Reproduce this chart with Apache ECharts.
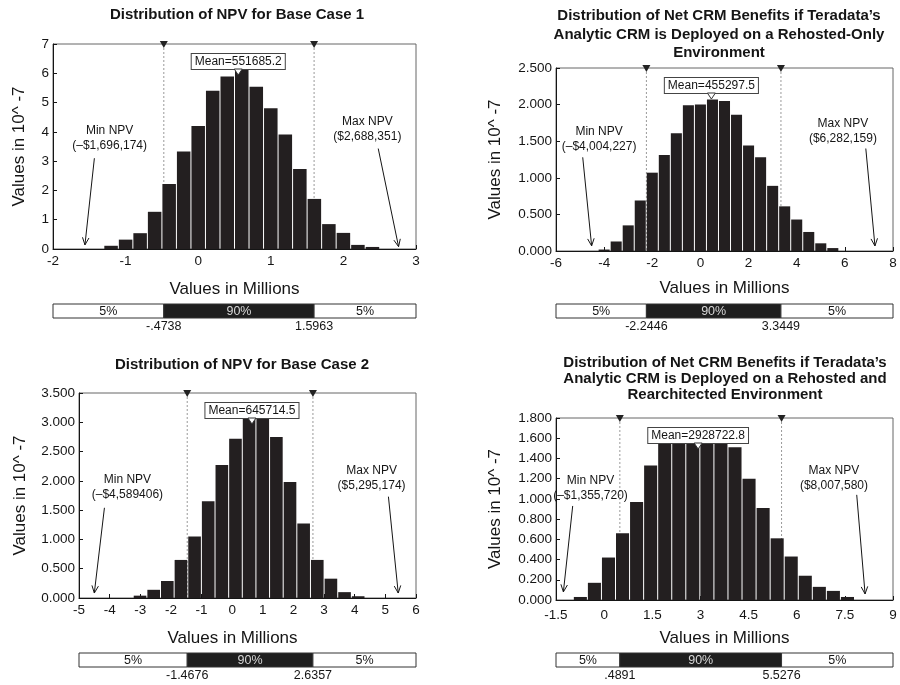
<!DOCTYPE html>
<html><head><meta charset="utf-8">
<script src="https://cdn.jsdelivr.net/npm/echarts@6/dist/echarts.min.js"></script>
<style>html,body{margin:0;padding:0;background:#fff}#c{width:900px;height:685px}</style>
</head><body><div id="c"></div>
<script>
// ---------- Panel 1 : Base Case 1 ----------
const p1Title = 'Distribution of NPV for Base Case 1';
const p1XRange = [-2, 3, 1];
const p1YRange = [0, 7, 1];
const p1BinStart = -1.3, p1BinWidth = 0.2;
const p1Heights = [0.11, 0.32, 0.54, 1.27, 2.22, 3.33, 4.20, 5.40, 5.89, 6.12, 5.54, 4.81, 3.91, 2.73, 1.71, 0.85, 0.55, 0.14, 0.07];
const p1Mean = 551685.2;
const p1Pct = [-0.4738, 1.5963];
const p1PctLabels = ['-.4738', '1.5963'];
const p1NoteTexts = ['Min NPV\n(\u2013$1,696,174)', 'Max NPV\n($2,688,351)'];
const p1Notes = [[-1.22, 3.80, -1.43, 3.10, -1.56, 0.14], [2.33, 4.08, 2.48, 3.43, 2.76, 0.08]];

// ---------- Panel 2 : Rehosted-Only ----------
const p2Title = 'Distribution of Net CRM Benefits if Teradata\u2019s\nAnalytic CRM is Deployed on a Rehosted-Only\nEnvironment';
const p2XRange = [-6, 8, 2];
const p2YRange = [0, 2.5, 0.5];
const p2BinStart = -4.25, p2BinWidth = 0.5;
const p2Heights = [0.02, 0.13, 0.35, 0.69, 1.07, 1.31, 1.61, 1.99, 2.00, 2.07, 2.05, 1.86, 1.44, 1.28, 0.89, 0.61, 0.43, 0.26, 0.105, 0.04];
const p2Mean = 455297.5;
const p2Pct = [-2.2446, 3.3449];
const p2PctLabels = ['-2.2446', '3.3449'];
const p2NoteTexts = ['Min NPV\n(\u2013$4,004,227)', 'Max NPV\n($6,282,159)'];
const p2Notes = [[-4.21, 1.53, -4.89, 1.28, -4.52, 0.07], [5.92, 1.64, 6.87, 1.40, 7.25, 0.07]];

// ---------- Panel 3 : Base Case 2 ----------
const p3Title = 'Distribution of NPV for Base Case 2';
const p3XRange = [-5, 6, 1];
const p3YRange = [0, 3.5, 0.5];
const p3BinStart = -3.23, p3BinWidth = 0.445;
const p3Heights = [0.04, 0.14, 0.29, 0.65, 1.05, 1.65, 2.27, 2.72, 3.12, 3.10, 2.75, 1.98, 1.27, 0.65, 0.33, 0.10, 0.03];
const p3Mean = 645714.5;
const p3Pct = [-1.4676, 2.6357];
const p3PctLabels = ['-1.4676', '2.6357'];
const p3NoteTexts = ['Min NPV\n(\u2013$4,589406)', 'Max NPV\n($5,295,174)'];
const p3Notes = [[-3.42, 1.89, -4.17, 1.54, -4.50, 0.085], [4.55, 2.04, 5.10, 1.73, 5.42, 0.085]];

// ---------- Panel 4 : Rehosted and Rearchitected ----------
const p4Title = 'Distribution of Net CRM Benefits if Teradata\u2019s\nAnalytic CRM is Deployed on a Rehosted and\nRearchitected Environment';
const p4XRange = [-1.5, 9, 1.5];
const p4YRange = [0, 1.8, 0.2];
const p4BinStart = -0.96, p4BinWidth = 0.438;
const p4Heights = [0.03, 0.17, 0.42, 0.66, 0.97, 1.33, 1.62, 1.66, 1.68, 1.67, 1.63, 1.51, 1.20, 0.91, 0.61, 0.43, 0.24, 0.13, 0.09, 0.03];
const p4Mean = 2928722.8;
const p4Pct = [0.4891, 5.5276];
const p4PctLabels = ['.4891', '5.5276'];
const p4NoteTexts = ['Min NPV\n(\u2013$1,355,720)', 'Max NPV\n($8,007,580)'];
const p4Notes = [[-0.425, 1.11, -0.98, 0.93, -1.27, 0.08], [7.16, 1.20, 7.87, 1.04, 8.13, 0.06]];

const segLabels = ['5%', '90%', '5%'];
const xName = 'Values in Millions';
const yName = 'Values in 10^ -7';

const NARROW = "'Liberation Sans',Arial,sans-serif";
const SANS = "'Liberation Sans',Arial,sans-serif";
const INK = '#151515';

const layouts = [
  {grid: {left: 53, top: 44, width: 363, height: 205}, pct: {left: 53, top: 304, width: 363, height: 14},
   title: {left: 237, top: 6, lh: 18}, xGap: 32, yGap: 25, xMargin: 5, xPad: [0, 0, 0, 0], dec: 0},
  {grid: {left: 556, top: 68, width: 337, height: 183}, pct: {left: 556, top: 304, width: 337, height: 14},
   title: {left: 719, top: 7, lh: 18.3}, xGap: 29, yGap: 52, xMargin: 5, xPad: [0, 0, 0, 0], dec: 3},
  {grid: {left: 79, top: 393, width: 337, height: 205}, pct: {left: 79, top: 653, width: 337, height: 14},
   title: {left: 242, top: 356, lh: 18}, xGap: 32, yGap: 50, xMargin: 5, xPad: [0, 30, 0, 0], dec: 3},
  {grid: {left: 556, top: 418, width: 337, height: 182}, pct: {left: 556, top: 653, width: 337, height: 14},
   title: {left: 725, top: 355, lh: 16}, xGap: 30, yGap: 52, xMargin: 8, xPad: [0, 0, 0, 0], dec: 3}
];

const panels = [
  {title: p1Title, xr: p1XRange, yr: p1YRange, bs: p1BinStart, bw: p1BinWidth, h: p1Heights, mean: p1Mean, pct: p1Pct, pctL: p1PctLabels, nt: p1NoteTexts, notes: p1Notes},
  {title: p2Title, xr: p2XRange, yr: p2YRange, bs: p2BinStart, bw: p2BinWidth, h: p2Heights, mean: p2Mean, pct: p2Pct, pctL: p2PctLabels, nt: p2NoteTexts, notes: p2Notes},
  {title: p3Title, xr: p3XRange, yr: p3YRange, bs: p3BinStart, bw: p3BinWidth, h: p3Heights, mean: p3Mean, pct: p3Pct, pctL: p3PctLabels, nt: p3NoteTexts, notes: p3Notes},
  {title: p4Title, xr: p4XRange, yr: p4YRange, bs: p4BinStart, bw: p4BinWidth, h: p4Heights, mean: p4Mean, pct: p4Pct, pctL: p4PctLabels, nt: p4NoteTexts, notes: p4Notes}
];

const option = {backgroundColor: '#fff', animation: false, title: [], grid: [], xAxis: [], yAxis: [], series: []};

panels.forEach(function (p, i) {
  const L = layouts[i];
  const g = 2 * i, gp = 2 * i + 1;
  option.title.push({text: p.title, left: L.title.left, top: L.title.top, textAlign: 'center', padding: 0,
    textStyle: {fontSize: 15, fontWeight: 'bold', fontFamily: SANS, color: INK, lineHeight: L.title.lh}});
  option.grid.push(Object.assign({show: true, borderColor: '#666', borderWidth: 1, containLabel: false, outerBoundsMode: 'none'}, L.grid));
  option.grid.push(Object.assign({containLabel: false, outerBoundsMode: 'none'}, L.pct));

  option.xAxis.push({type: 'value', gridIndex: g, min: p.xr[0], max: p.xr[1], interval: p.xr[2],
    name: xName, nameLocation: 'middle', nameGap: L.xGap,
    nameTextStyle: {fontSize: 17, fontFamily: SANS, color: INK, padding: L.xPad},
    axisLine: {show: true, onZero: false, lineStyle: {color: INK, width: 1}},
    axisTick: {show: true, inside: true, length: 4, lineStyle: {color: INK}},
    axisLabel: {fontSize: 13.5, fontFamily: NARROW, color: INK, margin: L.xMargin},
    splitLine: {show: false}});
  option.yAxis.push({type: 'value', gridIndex: g, min: p.yr[0], max: p.yr[1], interval: p.yr[2],
    name: yName, nameLocation: 'middle', nameGap: L.yGap,
    nameTextStyle: {fontSize: 17, fontFamily: SANS, color: INK},
    axisLine: {show: true, onZero: false, lineStyle: {color: INK, width: 1}},
    axisTick: {show: true, inside: true, length: 4, lineStyle: {color: INK}},
    axisLabel: {fontSize: 13.5, fontFamily: NARROW, color: INK, margin: 4,
      formatter: (function (d) { return function (v) { return v.toFixed(d); }; })(L.dec)},
    splitLine: {show: false}});
  option.xAxis.push({type: 'value', gridIndex: gp, min: p.xr[0], max: p.xr[1], show: false});
  option.yAxis.push({type: 'value', gridIndex: gp, min: 0, max: 1, show: false});

  const xa = 2 * i, xb = 2 * i + 1;

  // percentile guide lines (behind bars)
  option.series.push({type: 'custom', xAxisIndex: xa, yAxisIndex: xa, z: 1, silent: true,
    data: p.pct.map(function (v) { return [v]; }), encode: {x: 0},
    renderItem: function (params, api) {
      const cs = params.coordSys;
      const x = api.coord([api.value(0), 0])[0];
      return {type: 'line', shape: {x1: x, y1: cs.y, x2: x, y2: cs.y + cs.height},
        style: {stroke: '#9a9a9a', lineWidth: 1, lineDash: [2, 2]}};
    }});

  // histogram bars
  const bars = p.h.map(function (h, k) { return [p.bs + k * p.bw, p.bs + (k + 1) * p.bw, h]; });
  option.series.push({type: 'custom', xAxisIndex: xa, yAxisIndex: xa, z: 2, silent: true,
    data: bars, encode: {x: [0, 1], y: 2},
    renderItem: function (params, api) {
      const a = api.coord([api.value(0), api.value(2)]);
      const b = api.coord([api.value(1), 0]);
      return {type: 'rect', shape: {x: a[0] + 0.5, y: a[1], width: b[0] - a[0] - 1, height: b[1] - a[1]},
        style: {fill: '#231f20'}};
    }});

  // percentile triangles on top frame
  option.series.push({type: 'custom', xAxisIndex: xa, yAxisIndex: xa, z: 6, silent: true,
    data: p.pct.map(function (v) { return [v]; }), encode: {x: 0},
    renderItem: function (params, api) {
      const cs = params.coordSys;
      const x = api.coord([api.value(0), 0])[0];
      return {type: 'polygon', shape: {points: [[x - 4, cs.y - 3], [x + 4, cs.y - 3], [x, cs.y + 4]]},
        style: {fill: '#222'}};
    }});

  // mean marker
  const meanLabel = 'Mean=' + p.mean.toFixed(1);
  option.series.push({type: 'custom', xAxisIndex: xa, yAxisIndex: xa, z: 7, silent: true,
    data: [[p.mean / 1e6]], encode: {x: 0},
    renderItem: function (params, api) {
      const cs = params.coordSys;
      const x = api.coord([api.value(0), 0])[0];
      const top = cs.y + 10;
      return {type: 'group', children: [
        {type: 'text', x: x, y: top, style: {text: meanLabel, font: '12px ' + NARROW, fill: INK,
          align: 'center', verticalAlign: 'top', lineHeight: 13, backgroundColor: '#fff',
          borderColor: '#444', borderWidth: 1, padding: [1, 3, 1, 3]}},
        {type: 'polygon', shape: {points: [[x - 4, top + 15], [x + 4, top + 15], [x, top + 21]]},
          style: {fill: '#fff', stroke: '#333', lineWidth: 1}}
      ]};
    }});

  // min / max annotations
  const texts = p.nt;
  option.series.push({type: 'custom', xAxisIndex: xa, yAxisIndex: xa, z: 8, silent: true,
    data: p.notes, encode: {x: [0, 2, 4], y: [1, 3, 5]},
    renderItem: function (params, api) {
      const t = api.coord([api.value(0), api.value(1)]);
      const s = api.coord([api.value(2), api.value(3)]);
      const e = api.coord([api.value(4), api.value(5)]);
      const ang = Math.atan2(e[1] - s[1], e[0] - s[0]);
      const len = 8, w = 0.42;
      const h1 = [e[0] - len * Math.cos(ang - w), e[1] - len * Math.sin(ang - w)];
      const h2 = [e[0] - len * Math.cos(ang + w), e[1] - len * Math.sin(ang + w)];
      return {type: 'group', children: [
        {type: 'text', x: t[0], y: t[1], style: {text: texts[params.dataIndex], font: '12px ' + NARROW,
          fill: INK, align: 'center', verticalAlign: 'middle', lineHeight: 15}},
        {type: 'line', shape: {x1: s[0], y1: s[1], x2: e[0], y2: e[1]}, style: {stroke: INK, lineWidth: 1}},
        {type: 'polyline', shape: {points: [h1, e, h2]}, style: {stroke: INK, lineWidth: 1, fill: null}}
      ]};
    }});

  // percentile bar segments
  const edges = [p.xr[0], p.pct[0], p.pct[1], p.xr[1]];
  const segs = [[edges[0], edges[1]], [edges[1], edges[2]], [edges[2], edges[3]]];
  option.series.push({type: 'custom', xAxisIndex: xb, yAxisIndex: xb, z: 2, silent: true,
    data: segs, encode: {x: [0, 1]},
    renderItem: function (params, api) {
      const k = params.dataIndex;
      const a = api.coord([api.value(0), 1]);
      const b = api.coord([api.value(1), 0]);
      const dark = k === 1;
      return {type: 'group', children: [
        {type: 'rect', shape: {x: a[0], y: a[1], width: b[0] - a[0], height: b[1] - a[1]},
          style: {fill: dark ? '#1f1f1f' : '#fff', stroke: '#333', lineWidth: 1}},
        {type: 'text', x: (a[0] + b[0]) / 2, y: (a[1] + b[1]) / 2 + 0.5, style: {text: segLabels[k],
          font: '12.5px ' + NARROW, fill: dark ? '#d8d8d8' : INK, align: 'center', verticalAlign: 'middle'}}
      ]};
    }});
  // percentile value labels
  const pl = p.pctL;
  option.series.push({type: 'custom', xAxisIndex: xb, yAxisIndex: xb, z: 3, silent: true,
    data: p.pct.map(function (v) { return [v]; }), encode: {x: 0},
    renderItem: function (params, api) {
      const c = api.coord([api.value(0), 0]);
      return {type: 'text', x: c[0], y: c[1] + 2, style: {text: pl[params.dataIndex], font: '12.5px ' + NARROW,
        fill: INK, align: 'center', verticalAlign: 'top'}};
    }});
});

const chart = echarts.init(document.getElementById('c'), null, {renderer: 'canvas'});
chart.setOption(option);
</script>
</body></html>
